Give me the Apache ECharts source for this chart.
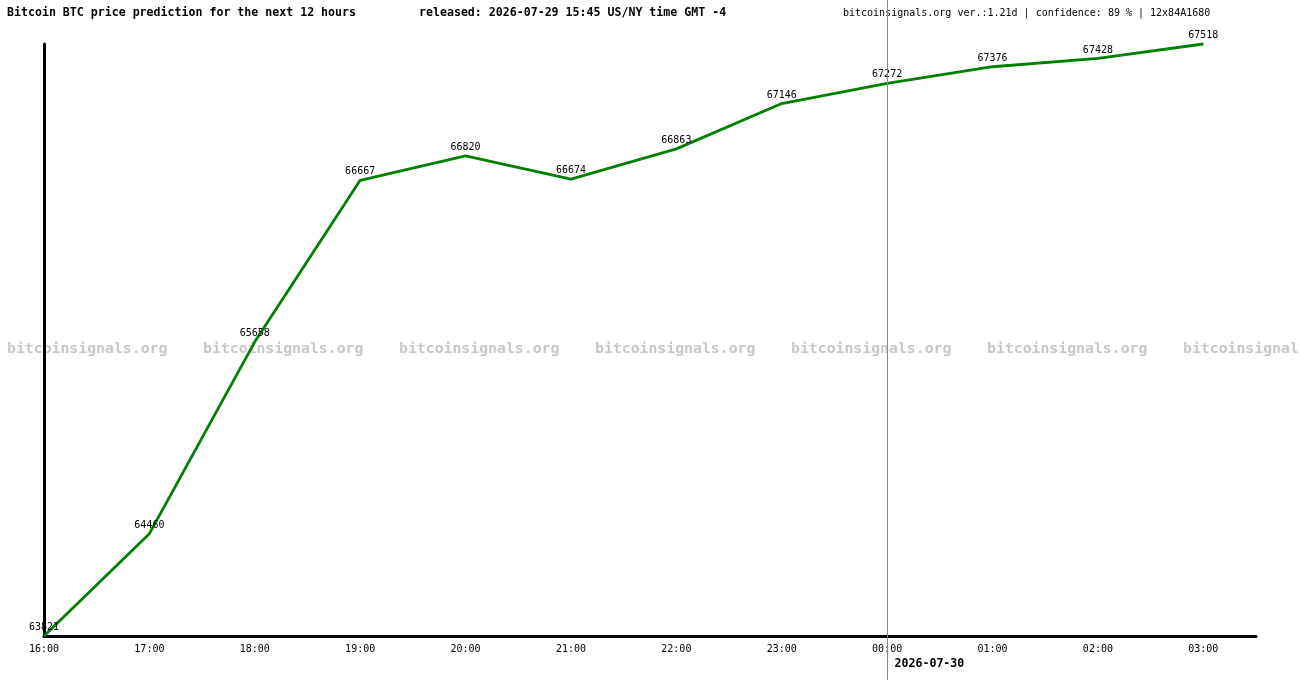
<!DOCTYPE html>
<html>
<head>
<meta charset="utf-8">
<script src="https://cdn.jsdelivr.net/npm/echarts@6/dist/echarts.min.js"></script>
<style>
html,body{margin:0;padding:0;background:#fff;}
#chart{width:1300px;height:680px;}
</style>
</head>
<body>
<div id="chart"></div>
<script>
// hours and predicted prices
var hours = ['16:00','17:00','18:00','19:00','20:00','21:00','22:00','23:00','00:00','01:00','02:00','03:00'];
var prices = [63821, 64460, 65658, 66667, 66820, 66674, 66863, 67146, 67272, 67376, 67428, 67518];
var titleLeft = 'Bitcoin BTC price prediction for the next 12 hours';
var titleMid = 'released: 2026-07-29 15:45 US/NY time GMT -4';
var titleRight = 'bitcoinsignals.org ver.:1.21d | confidence: 89 % | 12x84A1680';
var dayLabel = '2026-07-30';
var watermark = 'bitcoinsignals.org';

var mono = '"DejaVu Sans Mono", monospace';
var myChart = echarts.init(document.getElementById('chart'));

var points = [];
for (var i = 0; i < prices.length; i++) {
	points.push([i, prices[i]]);
}

var marks = [];
for (var k = 0; k < 7; k++) {
	marks.push({
		type: 'text', z: -10, left: 7 + k * 196, top: 342,
		style: { text: watermark, fill: '#c8c8c8', font: 'bold 14.8px ' + mono }
	});
}
marks.push({ type: 'text', left: 7, top: 7, style: { text: titleLeft, fill: '#000', font: 'bold 11.6px ' + mono } });
marks.push({ type: 'text', left: 419, top: 7, style: { text: titleMid, fill: '#000', font: 'bold 11.6px ' + mono } });
marks.push({ type: 'text', left: 843, top: 8, style: { text: titleRight, fill: '#000', font: '10px ' + mono } });

var option = {
	backgroundColor: '#fff',
	animation: false,
	grid: { left: 44, right: 44, top: 44, bottom: 44 },
	xAxis: {
		type: 'value',
		min: 0,
		max: 11.5,
		interval: 1,
		splitLine: { show: false },
		axisTick: { show: false },
		axisLine: { show: true, lineStyle: { color: '#000', width: 3 } },
		axisLabel: {
			color: '#000', fontFamily: mono, fontSize: 10, margin: 8,
			showMaxLabel: false,
			formatter: function (v) { return Number.isInteger(v) ? hours[v] : ''; }
		}
	},
	yAxis: {
		type: 'value',
		min: 'dataMin',
		max: 'dataMax',
		splitLine: { show: false },
		axisTick: { show: false },
		axisLabel: { show: false },
		axisLine: { show: true, lineStyle: { color: '#000', width: 3 } }
	},
	series: [{
		type: 'line',
		data: points,
		showSymbol: true,
		symbol: 'circle',
		symbolSize: 1,
		itemStyle: { color: 'rgba(0,0,0,0)' },
		clip: false,
		lineStyle: { color: '#008000', width: 2.8 },
		label: {
			show: true, position: 'top', distance: 3,
			color: '#000', fontFamily: mono, fontSize: 10,
			formatter: function (p) { return String(p.value[1]); }
		}
	}],
	graphic: marks
};
myChart.setOption(option);

// day separator at midnight
var midIdx = hours.indexOf('00:00');
var px = Math.floor(myChart.convertToPixel({ xAxisIndex: 0 }, midIdx)) + 0.5;
marks.push({
	type: 'line', z: 5,
	shape: { x1: px, y1: 0, x2: px, y2: 680 },
	style: { stroke: '#888888', lineWidth: 1 }
});
marks.push({ type: 'text', left: px + 7, top: 658, style: { text: dayLabel, fill: '#000', font: 'bold 11.6px ' + mono } });
myChart.setOption({ graphic: marks });
</script>
</body>
</html>
